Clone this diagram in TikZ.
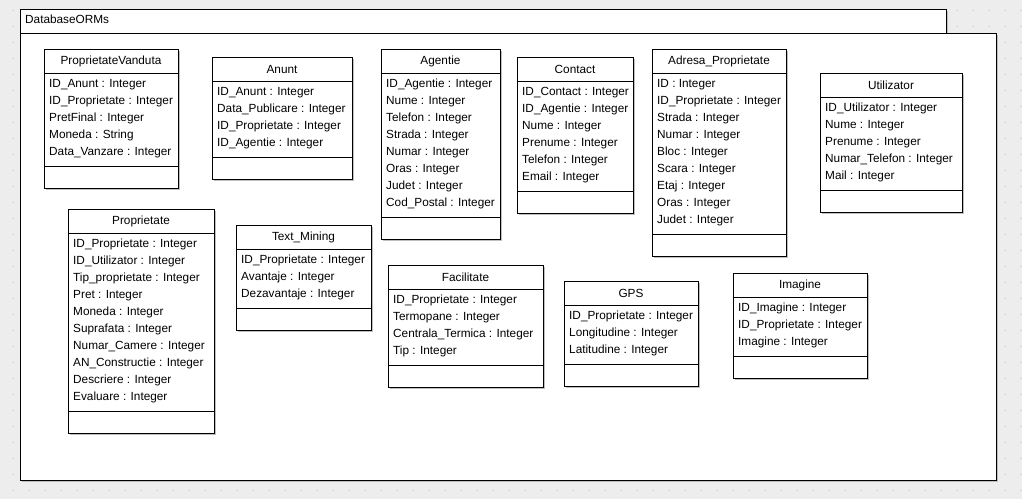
\documentclass[tikz,border=0pt]{standalone}
\usepackage{fontspec}
\setmainfont{Liberation Sans}

\definecolor{canvasgray}{RGB}{237,237,237}
\definecolor{dotgray}{RGB}{212,212,212}

\tikzset{
  classbox/.style={draw, fill=white, line width=0.9pt, anchor=north west, inner sep=0pt, outer sep=0pt},
  classtitle/.style={inner sep=0pt, font=\fontsize{11.8}{14}\selectfont},
  attrtext/.style={anchor=base west, inner sep=0pt, font=\fontsize{11.8}{14}\selectfont},
  boxshadow/.style={fill=black!25, draw=none},
  griddot/.style={draw=dotgray, line width=0.8pt},
}

% #1 name, #2 left, #3 top, #4 right, #5 title, #6 number of attributes, #7 attributes
\newcommand{\umlclass}[7]{%
  \pgfmathsetmacro{\attbot}{#3+24+17*#6+8}
  \pgfmathsetmacro{\clsbot}{\attbot+22}
  \fill[boxshadow] (#2+2,#3+2) rectangle (#4+2,\clsbot+2);
  \node[classbox, minimum width=#4pt-#2pt, minimum height=\clsbot pt-#3pt] (#1) at (#2,#3) {};
  \draw[line width=0.9pt] (#2,#3+24) -- (#4,#3+24);
  \draw[line width=0.9pt] (#2,\attbot) -- (#4,\attbot);
  \node[classtitle] (#1-title) at ({(#2+#4)/2},#3+12) {#5};
  \foreach \att [count=\k] in {#7}
    \node[attrtext] (#1-\k) at (#2+5,#3+24+17*\k-3) {\att};
}

\begin{document}
\begin{tikzpicture}[x=1pt,y=-1pt]
  \useasboundingbox (0,0) rectangle (1022,499);
  \fill[canvasgray] (0,0) rectangle (1022,499);
  \foreach \gx in {13,29,...,1021}
    \foreach \gy in {10,26,...,498}
      \draw[griddot] (\gx-1,\gy) -- (\gx+1,\gy);

  % package frame
  \fill[boxshadow] (22,11) rectangle (948,35);
  \node[classbox, minimum width=926pt, minimum height=24pt] (pkgtab) at (20,9) {};
  \fill[boxshadow] (22,35) rectangle (998,482);
  \node[classbox, minimum width=976pt, minimum height=447pt] (pkgbody) at (20,33) {};
  \node[attrtext] (pkgname) at (25,23) {DatabaseORMs};

  % classes, first row
  \umlclass{vanduta}{44}{49}{178}{ProprietateVanduta}{5}{ID\_Anunt : Integer, ID\_Proprietate : Integer, PretFinal : Integer, Moneda : String, Data\_Vanzare : Integer}
  \umlclass{anunt}{212}{57}{352}{Anunt}{4}{ID\_Anunt : Integer, Data\_Publicare : Integer, ID\_Proprietate : Integer, ID\_Agentie : Integer}
  \umlclass{agentie}{381}{49}{500}{Agentie}{8}{ID\_Agentie : Integer, Nume : Integer, Telefon : Integer, Strada : Integer, Numar : Integer, Oras : Integer, Judet : Integer, Cod\_Postal : Integer}
  \umlclass{contact}{517}{57}{633}{Contact}{6}{ID\_Contact : Integer, ID\_Agentie : Integer, Nume : Integer, Prenume : Integer, Telefon : Integer, Email : Integer}
  \umlclass{adresa}{652}{49}{786}{Adresa\_Proprietate}{9}{ID : Integer, ID\_Proprietate : Integer, Strada : Integer, Numar : Integer, Bloc : Integer, Scara : Integer, Etaj : Integer, Oras : Integer, Judet : Integer}
  \umlclass{utilizator}{820}{73}{962}{Utilizator}{5}{ID\_Utilizator : Integer, Nume : Integer, Prenume : Integer, Numar\_Telefon : Integer, Mail : Integer}

  % classes, second row
  \umlclass{proprietate}{68}{209}{214}{Proprietate}{10}{ID\_Proprietate : Integer, ID\_Utilizator : Integer, Tip\_proprietate : Integer, Pret : Integer, Moneda : Integer, Suprafata : Integer, Numar\_Camere : Integer, AN\_Constructie : Integer, Descriere : Integer, Evaluare : Integer}
  \umlclass{textmining}{236}{225}{371}{Text\_Mining}{3}{ID\_Proprietate : Integer, Avantaje : Integer, Dezavantaje : Integer}
  \umlclass{facilitate}{388}{265}{543}{Facilitate}{4}{ID\_Proprietate : Integer, Termopane : Integer, Centrala\_Termica : Integer, Tip : Integer}
  \umlclass{gps}{564}{281}{698}{GPS}{3}{ID\_Proprietate : Integer, Longitudine : Integer, Latitudine : Integer}
  \umlclass{imagine}{733}{273}{867}{Imagine}{3}{ID\_Imagine : Integer, ID\_Proprietate : Integer, Imagine : Integer}

\end{tikzpicture}
\end{document}
